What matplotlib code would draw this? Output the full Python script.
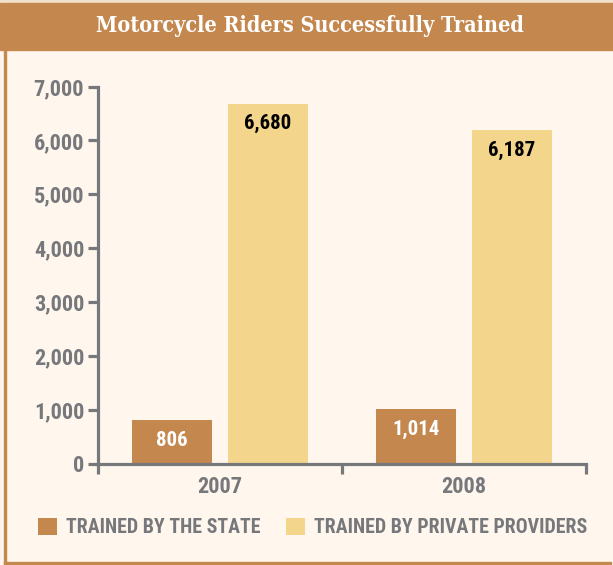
import matplotlib
matplotlib.use("Agg")
import matplotlib.pyplot as plt
import numpy as np
from matplotlib import font_manager
from matplotlib.patches import Rectangle

years = ["2007", "2008"]
state = [806, 1014]
private = [6680, 6187]
series_names = ["TRAINED BY THE STATE", "TRAINED BY PRIVATE PROVIDERS"]
y_ticks = [0, 1000, 2000, 3000, 4000, 5000, 6000, 7000]
title = "Motorcycle Riders Successfully Trained"

BROWN = "#C4884F"
YELLOW = "#F3D58C"
CREAM = "#FFF7EE"
GRAY = "#77787B"

# pick the narrowest condensed fonts the system has
fonts = {(f.name, f.stretch) for f in font_manager.fontManager.ttflist}
names = {n for n, _ in fonts}
sans = dict(family="DejaVu Sans")
for fam, st in [("Noto Sans", "extra-condensed"), ("Noto Sans", "condensed"),
                ("Roboto Condensed", None), ("Liberation Sans Narrow", None),
                ("DejaVu Sans", "condensed")]:
    if st is None and fam in names:
        sans = dict(family=fam)
        break
    if st is not None and (fam, st) in fonts:
        sans = dict(family=fam, stretch=st)
        break
serif = dict(family="DejaVu Serif")
for fam, st in [("Noto Serif", "extra-condensed"), ("Noto Serif", "condensed"),
                ("DejaVu Serif", "condensed")]:
    if (fam, st) in fonts:
        serif = dict(family=fam, stretch=st)
        break

fig = plt.figure(figsize=(6.13, 5.65), dpi=100, facecolor=CREAM)

# frame and title banner
fig.patches.append(Rectangle((0, 0.9947), 1, 0.0053, transform=fig.transFigure,
                             color="#F2E2CC", zorder=0))
fig.patches.append(Rectangle((0, 0.9115), 1, 0.0832, transform=fig.transFigure,
                             color=BROWN, zorder=1))
fig.patches.append(Rectangle((0.0065, 0.0018), 0.0033, 0.91, transform=fig.transFigure,
                             color=BROWN, zorder=1))
fig.patches.append(Rectangle((0.0065, 0.0018), 0.99, 0.0035, transform=fig.transFigure,
                             color=BROWN, zorder=1))
fig.text(0.506, 0.954, title, ha="center", va="center", color="white",
         fontsize=15.5, fontweight="bold", **serif)

ax = fig.add_axes([0.1599, 0.1796, 0.796, 0.6673])
ax.set_facecolor(CREAM)

x = np.arange(len(years))
w = 0.325
off = 0.197
b1 = ax.bar(x - off, state, w, color=BROWN, label=series_names[0])
b2 = ax.bar(x + off, private, w, color=YELLOW, label=series_names[1])

for bars, col in ((b1, "white"), (b2, "black")):
    for r in bars:
        v = r.get_height()
        ax.annotate(f"{v:,.0f}", (r.get_x() + r.get_width() / 2, v),
                    xytext=(0, -14.5), textcoords="offset points",
                    ha="center", va="center", color=col,
                    fontproperties=font_manager.FontProperties(weight="bold", size=15, **sans))

ax.set_xlim(-0.5, 1.5)
ax.set_ylim(0, 7000)
ax.set_yticks(y_ticks)
ax.set_yticklabels([f"{v:,}" for v in y_ticks])
ax.set_xticks(x)
ax.set_xticklabels(years)
ax.set_xticks([-0.5, 0.5, 1.5], minor=True)

for s in ("top", "right"):
    ax.spines[s].set_visible(False)
for s in ("left", "bottom"):
    ax.spines[s].set_color(GRAY)
    ax.spines[s].set_linewidth(2.3)

ax.tick_params(axis="y", direction="out", length=7, width=2.3, color=GRAY,
               labelcolor=GRAY, pad=3)
ax.tick_params(axis="x", which="major", length=0, labelcolor=GRAY, pad=9)
ax.tick_params(axis="x", which="minor", direction="out", length=7, width=2.3,
               color=GRAY)
for lab in ax.get_xticklabels() + ax.get_yticklabels():
    lab.set_fontproperties(font_manager.FontProperties(weight="bold", size=16, **sans))

leg = fig.legend(handles=[b1, b2], loc="center", bbox_to_anchor=(0.51, 0.066),
                 ncol=2, frameon=False, handlelength=0.95, handleheight=0.95,
                 handletextpad=0.45, columnspacing=1.3,
                 prop=font_manager.FontProperties(weight="bold", size=14.3, **sans))
for t in leg.get_texts():
    t.set_color(GRAY)

fig.savefig("out.png", dpi=100, facecolor=CREAM)
